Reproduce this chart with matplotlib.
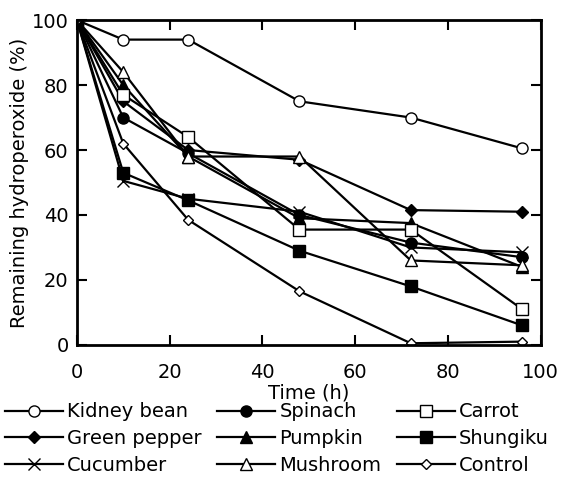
import matplotlib.pyplot as plt

plt.rcParams['font.family'] = ['DejaVu Sans']

# --- data ---
time_h = [0, 10, 24, 48, 72, 96]

kidney_bean = [100, 94, 94, 75, 70, 60.5]
green_pepper = [100, 75, 60, 57, 41.5, 41]
cucumber = [100, 50.5, 45, 41, 30, 28.5]
spinach = [100, 70, 59, 40, 31.5, 27]
pumpkin = [100, 80, 58, 39, 37.5, 24]
mushroom = [100, 84, 58, 58, 26, 24.5]
carrot = [100, 77, 64, 35.5, 35.5, 11]
shungiku = [100, 53, 44.5, 29, 18, 6]
control = [100, 62, 38.5, 16.5, 0.5, 1]

labels = ['Kidney bean', 'Green pepper', 'Cucumber',
          'Spinach', 'Pumpkin', 'Mushroom',
          'Carrot', 'Shungiku', 'Control']
series = [kidney_bean, green_pepper, cucumber,
          spinach, pumpkin, mushroom,
          carrot, shungiku, control]
markers = ['o', 'D', 'x', 'o', '^', '^', 's', 's', 'D']
filled = [False, True, False, True, True, False, False, True, False]
sizes = [8, 6, 8, 8, 8, 8, 8, 9, 5]

fig = plt.figure(figsize=(5.87, 4.79), dpi=100)
ax = fig.add_axes([0.131, 0.280, 0.790, 0.678])

for y, lab, m, f, ms in zip(series, labels, markers, filled, sizes):
    ax.plot(time_h, y, color='black', lw=1.6, marker=m, ms=ms,
            mfc='black' if f else 'white', mec='black', mew=1.0,
            label=lab)

ax.set_xlim(0, 100)
ax.set_ylim(0, 100)
ax.set_xticks([0, 20, 40, 60, 80, 100])
ax.set_yticks([0, 20, 40, 60, 80, 100])
ax.tick_params(direction='in', length=7, width=1.5, labelsize=14,
               top=True, right=True)
ax.tick_params(axis='x', pad=13)
ax.tick_params(axis='y', pad=6)
for s in ax.spines.values():
    s.set_linewidth(2)
ax.set_xlabel('Time (h)', fontsize=14, labelpad=1)
ax.set_ylabel('Remaining hydroperoxide (%)', fontsize=14, labelpad=2)

# legend below the axes, 3 columns
fig.legend(loc='upper left', bbox_to_anchor=(0.008, 0.16), ncol=3,
           frameon=False, fontsize=14, handlelength=3.0, handletextpad=0.2,
           columnspacing=0.8, labelspacing=0.4, borderaxespad=0,
           borderpad=0)

fig.savefig('out.png', dpi=100)
